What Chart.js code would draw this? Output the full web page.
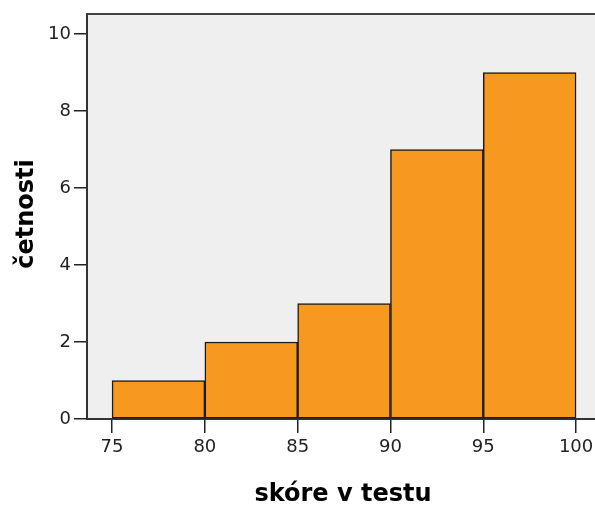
<!DOCTYPE html>
<html>
<head>
<meta charset="utf-8">
<script src="https://cdn.jsdelivr.net/npm/chart.js@4/dist/chart.umd.min.js"></script>
<style>
  body { margin: 0; background: #fff; }
</style>
</head>
<body>
<canvas id="histogram" width="595" height="506"></canvas>
<script>
// histogram bins (score ranges) and frequencies
const binStarts = [75, 80, 85, 90, 95];
const binWidth = 5;
const counts = [1, 2, 3, 7, 9];
const xTicks = [75, 80, 85, 90, 95, 100];
const yTicks = [0, 2, 4, 6, 8, 10];
const xTitle = 'skóre v testu';
const yTitle = 'četnosti';

const points = binStarts.map((s, i) => ({ x: s + binWidth / 2, y: counts[i] }));

const frame = {
  id: 'frame',
  beforeDraw(chart) {
    const a = chart.chartArea, ctx = chart.ctx;
    ctx.save();
    ctx.fillStyle = '#efefef';
    ctx.fillRect(a.left, a.top, a.right - a.left, a.bottom - a.top);
    ctx.restore();
  },
  afterDraw(chart) {
    const a = chart.chartArea, ctx = chart.ctx;
    ctx.save();
    ctx.strokeStyle = '#444';
    ctx.lineWidth = 2;
    ctx.beginPath();
    ctx.moveTo(a.left, a.top);
    ctx.lineTo(a.right, a.top);
    ctx.stroke();

    ctx.fillStyle = '#000';
    ctx.font = 'bold 24px "DejaVu Sans"';
    ctx.textAlign = 'center';
    ctx.textBaseline = 'alphabetic';
    ctx.fillText(xTitle, 343, 501);

    ctx.translate(33, 214);
    ctx.rotate(-Math.PI / 2);
    ctx.fillText(yTitle, 0, 0);
    ctx.restore();
  }
};

new Chart(document.getElementById('histogram').getContext('2d'), {
  type: 'bar',
  data: {
    datasets: [{
      data: points,
      backgroundColor: '#f7991f',
      borderColor: '#1a1a1a',
      borderWidth: 1.5,
      borderSkipped: false,
      barPercentage: 1,
      categoryPercentage: 1
    }]
  },
  options: {
    responsive: false,
    animation: false,
    layout: { padding: { top: 14, right: 0, left: 0, bottom: 0 } },
    plugins: {
      legend: { display: false },
      tooltip: { enabled: false }
    },
    scales: {
      x: {
        type: 'linear',
        min: 73.65,
        max: 101.02,
        offset: false,
        afterBuildTicks: s => { s.ticks = xTicks.map(v => ({ value: v })); },
        afterFit: s => { s.height = 87; s.paddingLeft = 0; s.paddingRight = 0; },
        grid: { offset: false, drawOnChartArea: false, tickLength: 14, color: '#222', lineWidth: 1.5 },
        border: { display: true, color: '#333', width: 2 },
        ticks: {
          autoSkip: false,
          maxRotation: 0,
          padding: 4,
          color: '#222',
          font: { family: 'DejaVu Sans', size: 18 }
        }
      },
      y: {
        min: 0,
        max: 10.52,
        afterBuildTicks: s => { s.ticks = yTicks.map(v => ({ value: v })); },
        afterFit: s => { s.width = 87; s.paddingTop = 0; s.paddingBottom = 0; },
        grid: { drawOnChartArea: false, tickLength: 13, color: '#222', lineWidth: 1.5 },
        border: { display: true, color: '#333', width: 2 },
        ticks: {
          padding: 3,
          color: '#222',
          font: { family: 'DejaVu Sans', size: 18 }
        }
      }
    }
  },
  plugins: [frame]
});
</script>
</body>
</html>
